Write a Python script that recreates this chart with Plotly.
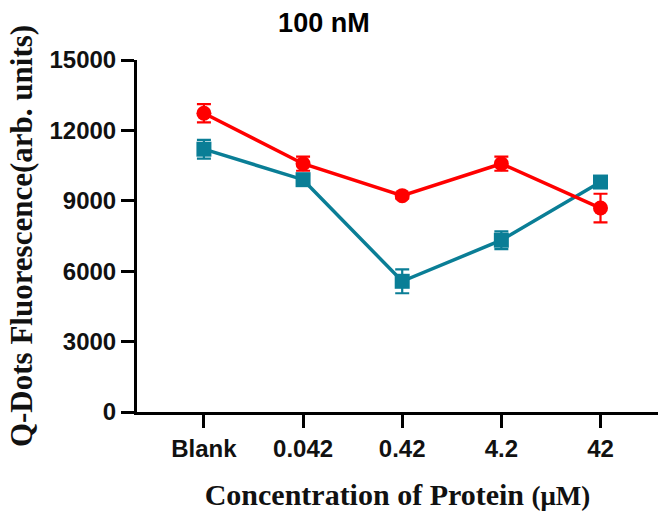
import plotly.graph_objects as go

categories = ["Blank", "0.042", "0.42", "4.2", "42"]
red_values = [12730, 10580, 9220, 10580, 8690]
red_errors = [390, 300, 120, 300, 610]
teal_values = [11200, 9900, 5570, 7320, 9800]
teal_errors = [400, 180, 510, 380, 150]
y_ticks = [0, 3000, 6000, 9000, 12000, 15000]

RED = "#ff0000"
TEAL = "#0a7e96"

x_idx = list(range(len(categories)))

fig = go.Figure()
fig.add_trace(go.Scatter(
    x=x_idx, y=teal_values, mode="lines+markers",
    line=dict(color=TEAL, width=3.5),
    marker=dict(symbol="square", size=15, color=TEAL),
    error_y=dict(type="data", array=teal_errors, visible=True, color=TEAL, thickness=2.2, width=7),
    showlegend=False,
))
fig.add_trace(go.Scatter(
    x=x_idx, y=red_values, mode="lines+markers",
    line=dict(color=RED, width=3.5),
    marker=dict(symbol="circle", size=15, color=RED),
    error_y=dict(type="data", array=red_errors, visible=True, color=RED, thickness=2.2, width=7),
    showlegend=False,
))

fig.update_layout(
    width=661, height=513,
    margin=dict(l=137, r=3, t=60, b=101),
    paper_bgcolor="white", plot_bgcolor="white",
    title=dict(text="<b>100 nM</b>", x=0.49, xanchor="center", y=0.957, yanchor="middle",
               font=dict(family="Liberation Sans, Arial", size=27, color="black")),
    xaxis=dict(
        range=[-0.675, 4.58], tickmode="array", tickvals=x_idx, ticktext=[f"<b>{c}</b>" for c in categories],
        showline=True, linecolor="black", linewidth=3, ticks="outside", ticklen=13, tickwidth=3,
        tickcolor="black", showgrid=False, zeroline=False,
        tickfont=dict(family="Liberation Sans, Arial", size=24, color="#111"),
        title=dict(text="<b>Concentration of Protein <span style='font-size:27px'>(μM)</span></b>", standoff=24,
                   font=dict(family="Liberation Serif, Times New Roman", size=30, color="#111")),
    ),
    yaxis=dict(
        range=[0, 15000], tickmode="array", tickvals=y_ticks, ticktext=[f"<b>{v}</b>" for v in y_ticks],
        showline=True, linecolor="black", linewidth=3, ticks="outside", ticklen=13, tickwidth=3,
        tickcolor="black", showgrid=False, zeroline=False,
        tickfont=dict(family="Liberation Sans, Arial", size=24, color="#111"),
        title=dict(text="<b>Q-Dots Fluorescence(arb. units)</b>", standoff=8,
                   font=dict(family="Liberation Serif, Times New Roman", size=31, color="#111")),
    ),
)

fig.write_html("out.html")
